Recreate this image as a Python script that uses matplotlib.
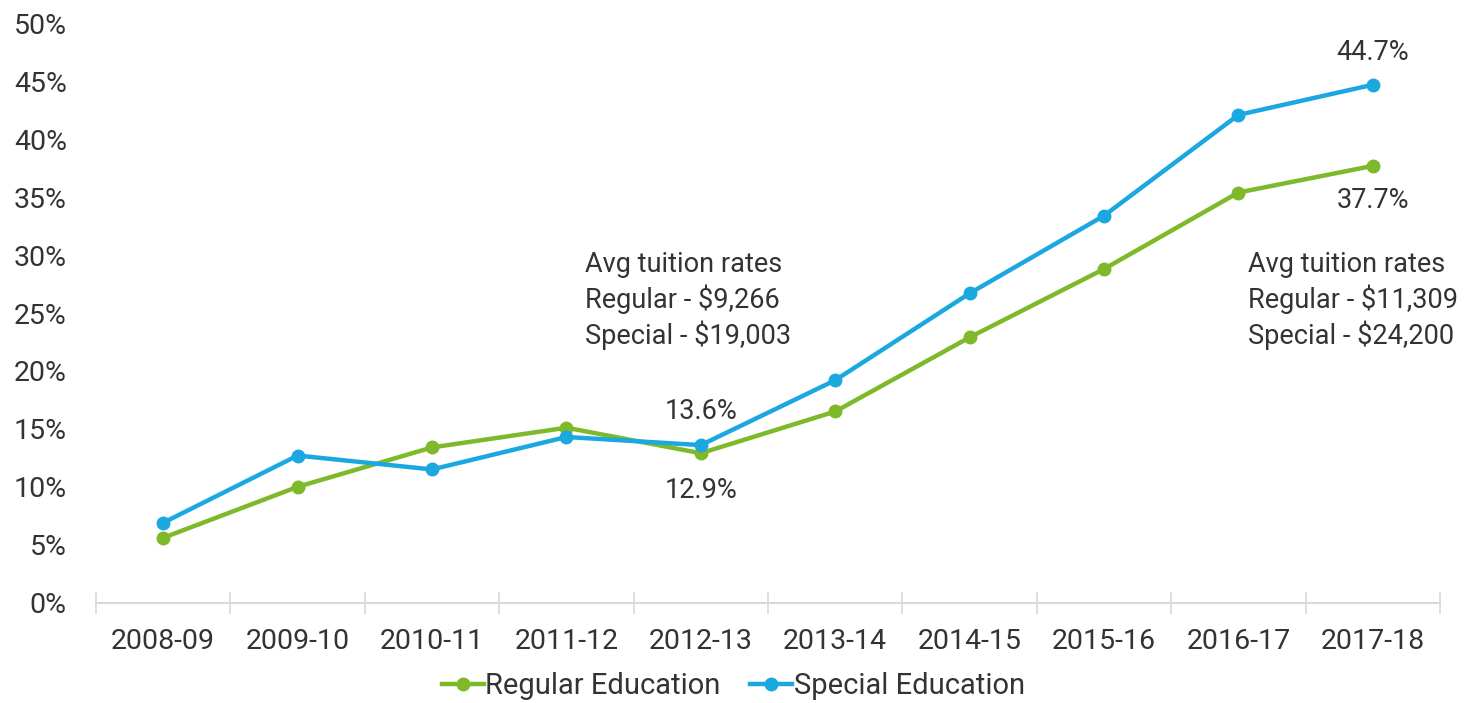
import matplotlib.pyplot as plt
from matplotlib.ticker import FuncFormatter

plt.rcParams['font.family'] = ['Roboto', 'DejaVu Sans']

years = ['2008-09', '2009-10', '2010-11', '2011-12', '2012-13',
         '2013-14', '2014-15', '2015-16', '2016-17', '2017-18']
regular = [5.6, 10.0, 13.4, 15.1, 12.9, 16.5, 22.9, 28.8, 35.4, 37.7]
special = [6.9, 12.7, 11.5, 14.3, 13.6, 19.2, 26.7, 33.4, 42.1, 44.7]

green = '#7db928'
blue = '#1ba8e0'
text_color = '#333333'

fig = plt.figure(figsize=(14.84, 7.03), dpi=100)
ax = fig.add_axes([0.0647, 0.1427, 0.9057, 0.8241])

x = list(range(len(years)))
ax.plot(x, regular, color=green, lw=3.2, marker='o', ms=9, label='Regular Education')
ax.plot(x, special, color=blue, lw=3.2, marker='o', ms=9, label='Special Education')

ax.set_xlim(-0.5, len(years) - 0.5)
ax.set_ylim(0, 50)
ax.set_yticks(range(0, 51, 5))
ax.yaxis.set_major_formatter(FuncFormatter(lambda v, p: f'{v:.0f}%'))
ax.tick_params(axis='y', length=0, pad=21, labelsize=20.5, labelcolor=text_color)

# category ticks sit between the labels
ax.set_xticks([i - 0.5 for i in range(len(years) + 1)])
ax.set_xticklabels([])
ax.set_xticks(x, minor=True)
ax.set_xticklabels(years, minor=True)
ax.tick_params(axis='x', which='major', direction='inout', length=16, width=1.2, color='#d9d9d9')
ax.tick_params(axis='x', which='minor', length=0, pad=18, labelsize=20.5, labelcolor=text_color)

for s in ['top', 'right', 'left']:
    ax.spines[s].set_visible(False)
ax.spines['bottom'].set_color('#d9d9d9')
ax.spines['bottom'].set_linewidth(1.5)

# value labels on selected points
fs = 19.5
ax.annotate(f'{special[4]:.1f}%', (4, special[4]), xytext=(0, 24), textcoords='offset points',
            ha='center', va='center', fontsize=fs, color=text_color)
ax.annotate(f'{regular[4]:.1f}%', (4, regular[4]), xytext=(0, -27), textcoords='offset points',
            ha='center', va='center', fontsize=fs, color=text_color)
ax.annotate(f'{special[9]:.1f}%', (9, special[9]), xytext=(0, 23), textcoords='offset points',
            ha='center', va='center', fontsize=fs, color=text_color)
ax.annotate(f'{regular[9]:.1f}%', (9, regular[9]), xytext=(0, -25), textcoords='offset points',
            ha='center', va='center', fontsize=fs, color=text_color)

# tuition rate notes
ax.text(3.14, 26.1, 'Avg tuition rates\nRegular - $9,266\nSpecial - $19,003',
        ha='left', va='center', fontsize=fs, color=text_color, linespacing=1.28)
ax.text(8.07, 26.1, 'Avg tuition rates\nRegular - $11,309\nSpecial - $24,200',
        ha='left', va='center', fontsize=fs, color=text_color, linespacing=1.28)

fig.legend(loc='center', bbox_to_anchor=(0.494, 0.024), ncol=2, frameon=False,
           fontsize=21, handlelength=1.45, handletextpad=0.05, columnspacing=1.0,
           borderpad=0, labelcolor=text_color)

plt.savefig('out.png', dpi=100)
